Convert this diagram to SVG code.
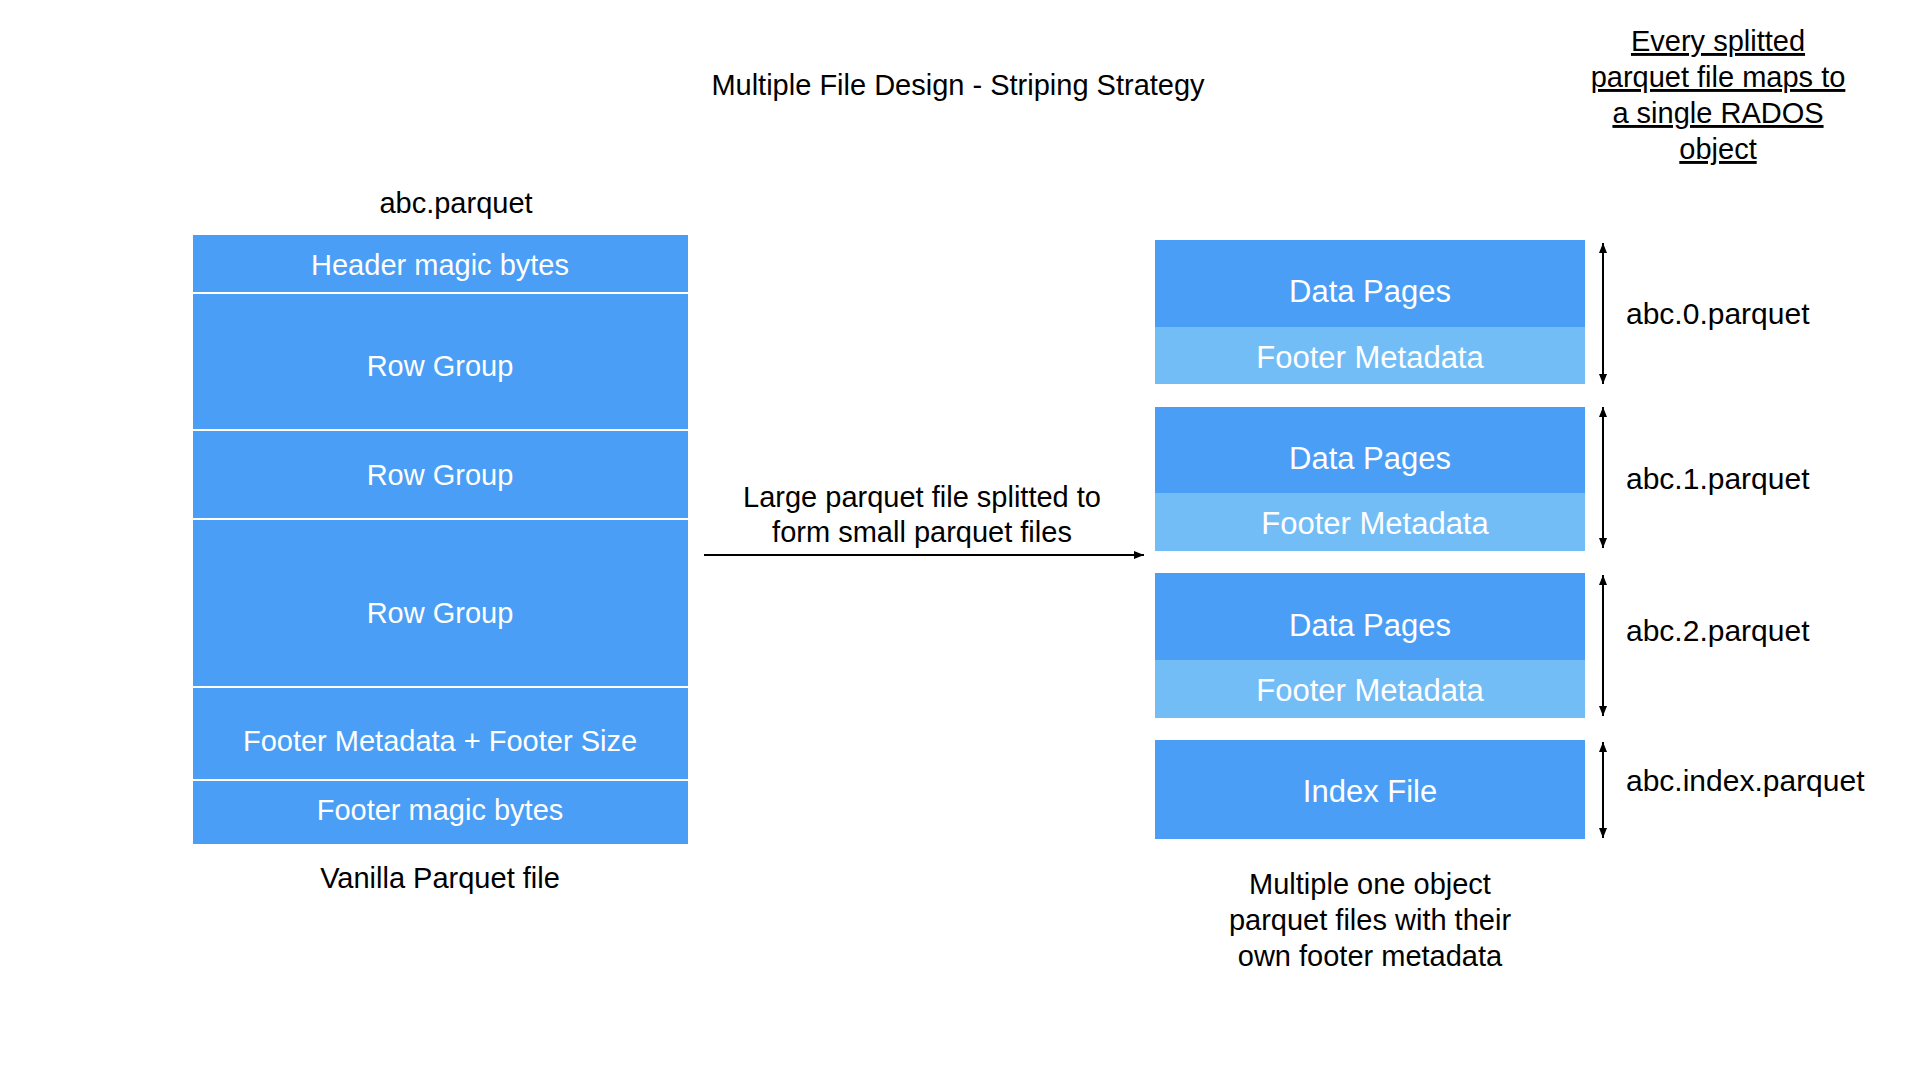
<svg xmlns="http://www.w3.org/2000/svg" width="1920" height="1080" viewBox="0 0 1920 1080">
<style>
text{font-family:"Liberation Sans",Arial,sans-serif;font-size:29px;text-anchor:middle}
.w{fill:#ffffff}
.b{font-size:31px}
.k{fill:#000000}
.r{fill:#000000;text-anchor:start;font-size:30px}
.u{text-decoration:underline}
.dark{fill:#4A9EF5}
.light{fill:#73BDF7}
.ln{stroke:#000;stroke-width:2;fill:none}
</style>
<defs>
<marker id="ah" viewBox="0 0 10 8" refX="10" refY="4" markerWidth="10" markerHeight="8" markerUnits="userSpaceOnUse" orient="auto-start-reverse">
<path d="M0,0 L10,4 L0,8 z" fill="#000"/>
</marker>
</defs>
<rect width="1920" height="1080" fill="#fff"/>
<text id="title" class="k" x="958" y="95">Multiple File Design - Striping Strategy</text>
<g id="note">
<text class="k u" x="1718" y="51">Every splitted</text>
<text class="k u" x="1718" y="87">parquet file maps to</text>
<text class="k u" x="1718" y="123">a single RADOS</text>
<text class="k u" x="1718" y="159">object</text>
</g>
<text id="left-title" class="k" x="456" y="213">abc.parquet</text>
<g id="header-magic"><rect class="dark" x="193" y="235" width="495" height="57"/><text class="w" x="440" y="275">Header magic bytes</text></g>
<g id="row-group-1"><rect class="dark" x="193" y="294" width="495" height="135"/><text class="w" x="440" y="376">Row Group</text></g>
<g id="row-group-2"><rect class="dark" x="193" y="431" width="495" height="87"/><text class="w" x="440" y="485">Row Group</text></g>
<g id="row-group-3"><rect class="dark" x="193" y="520" width="495" height="166"/><text class="w" x="440" y="623">Row Group</text></g>
<g id="footer-meta"><rect class="dark" x="193" y="688" width="495" height="91"/><text class="w" x="440" y="751">Footer Metadata + Footer Size</text></g>
<g id="footer-magic"><rect class="dark" x="193" y="781" width="495" height="63"/><text class="w" x="440" y="820">Footer magic bytes</text></g>
<text id="left-caption" class="k" x="440" y="888">Vanilla Parquet file</text>
<g id="split-label">
<text class="k" x="922" y="507">Large parquet file splitted to</text>
<text class="k" x="922" y="542">form small parquet files</text>
</g>
<g id="file-0"><rect class="dark" x="1155" y="240" width="430" height="87"/><rect class="light" x="1155" y="327" width="430" height="57"/><text class="w b" x="1370" y="302">Data Pages</text><text class="w b" x="1370" y="368">Footer Metadata</text></g>
<g id="file-1"><rect class="dark" x="1155" y="407" width="430" height="86"/><rect class="light" x="1155" y="493" width="430" height="58"/><text class="w b" x="1370" y="469">Data Pages</text><text class="w b" x="1375" y="534">Footer Metadata</text></g>
<g id="file-2"><rect class="dark" x="1155" y="573" width="430" height="87"/><rect class="light" x="1155" y="660" width="430" height="58"/><text class="w b" x="1370" y="636">Data Pages</text><text class="w b" x="1370" y="701">Footer Metadata</text></g>
<g id="index-file"><rect class="dark" x="1155" y="740" width="430" height="99"/><text class="w b" x="1370" y="802">Index File</text></g>
<g id="labels">
<text class="r" x="1626" y="324">abc.0.parquet</text>
<text class="r" x="1626" y="489">abc.1.parquet</text>
<text class="r" x="1626" y="641">abc.2.parquet</text>
<text class="r" x="1626" y="791">abc.index.parquet</text>
</g>
<g id="right-caption">
<text class="k" x="1370" y="894">Multiple one object</text>
<text class="k" x="1370" y="930">parquet files with their</text>
<text class="k" x="1370" y="966">own footer metadata</text>
</g>
<g id="connectors">
<line class="ln" x1="704" y1="555" x2="1144" y2="555" marker-end="url(#ah)"/>
<line class="ln" x1="1603" y1="243" x2="1603" y2="384" marker-start="url(#ah)" marker-end="url(#ah)"/>
<line class="ln" x1="1603" y1="407" x2="1603" y2="548" marker-start="url(#ah)" marker-end="url(#ah)"/>
<line class="ln" x1="1603" y1="575" x2="1603" y2="716" marker-start="url(#ah)" marker-end="url(#ah)"/>
<line class="ln" x1="1603" y1="742" x2="1603" y2="838" marker-start="url(#ah)" marker-end="url(#ah)"/>
</g>
</svg>
